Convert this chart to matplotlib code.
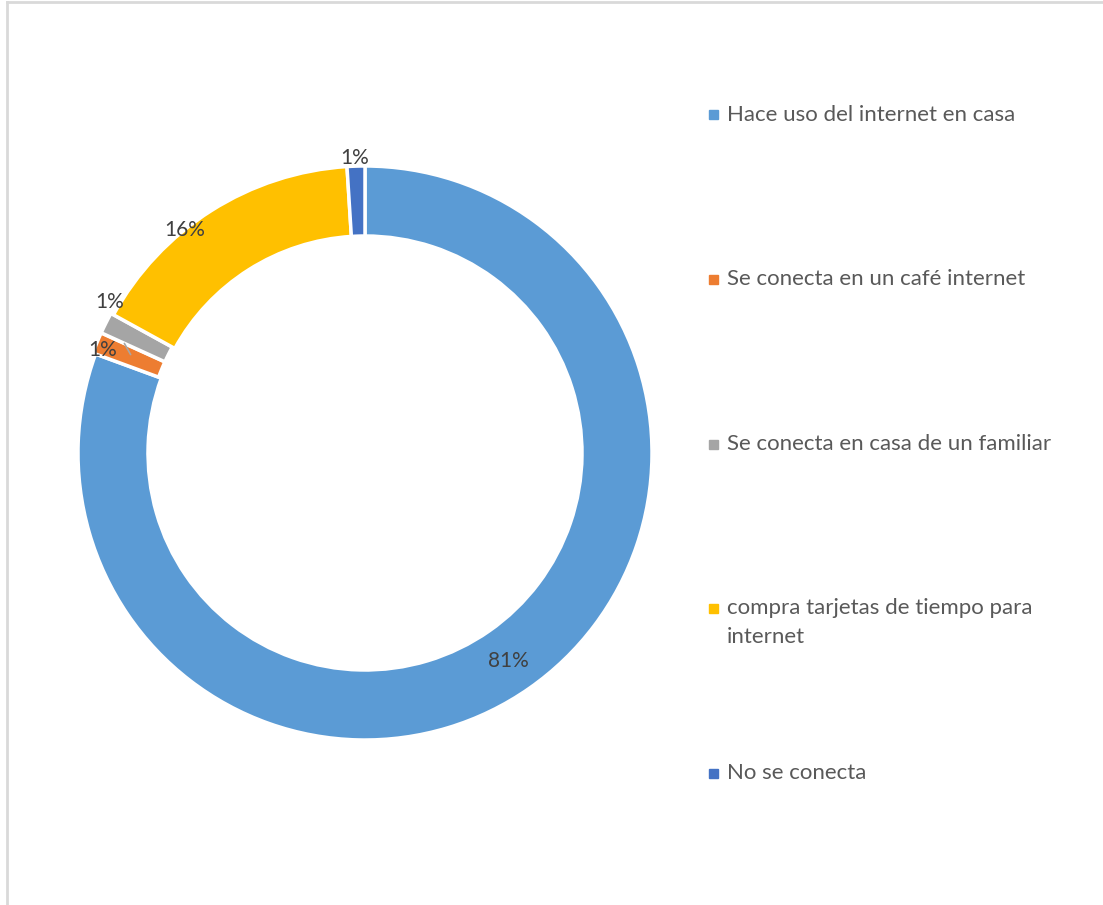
import matplotlib.pyplot as plt
from matplotlib.patches import Rectangle
import numpy as np

# data
categorias = ["Hace uso del internet en casa",
              "Se conecta en un café internet",
              "Se conecta en casa de un familiar",
              "compra tarjetas de tiempo para\ninternet",
              "No se conecta"]
valores = [80.6, 1.2, 1.2, 16.0, 1.0]
colores = ["#5B9BD5", "#ED7D31", "#A5A5A5", "#FFC000", "#4472C4"]
separar = [0, 0.01, 0.01, 0, 0]

plt.rcParams['font.family'] = ['Lato', 'DejaVu Sans']

W, H = 1103, 905
fig = plt.figure(figsize=(W/100, H/100), dpi=100)

# borde tipo excel (solo arriba e izquierda)
fig.add_artist(plt.Line2D([6.5/W, 6.5/W], [0, 1-2.5/H], color="#d9d9d9", lw=2, transform=fig.transFigure))
fig.add_artist(plt.Line2D([6.5/W, 1], [1-2.5/H, 1-2.5/H], color="#d9d9d9", lw=2, transform=fig.transFigure))

R = 287.0   # radio en px
cx, cy = 365, H - 453
lim = 1.2
side = 2*lim*R
ax = fig.add_axes([(cx-side/2)/W, (cy-side/2)/H, side/W, side/H])

wedges, _ = ax.pie(valores, colors=colores, startangle=90, counterclock=False,
                   explode=separar, radius=1,
                   wedgeprops=dict(width=70/R, edgecolor="white", linewidth=2.5))
ax.set_xlim(-lim, lim)
ax.set_ylim(-lim, lim)
ax.set_aspect("equal")
ax.axis("off")

def px(x, y):
    return ((x-cx)/R, ((H-y)-cy)/R)

etiquetas = ["%d%%" % round(v) for v in valores]
pos_etq = [px(508, 661), px(103, 350), px(110, 302), px(185, 230), px(355, 158)]
for t, p in zip(etiquetas, pos_etq):
    ax.text(p[0], p[1], t, ha="center", va="center", fontsize=15, color="#404040")

# linea guia de la etiqueta naranja
ax.annotate("", xy=px(132, 357), xytext=px(123, 341),
            arrowprops=dict(arrowstyle="-", color="#A6A6A6", lw=1.2))

# leyenda
ley_y = [115, 279, 444, 608, 773]
for cat, col, y in zip(categorias, colores, ley_y):
    fig.add_artist(Rectangle((709/W, (H-y-4.5)/H), 9/W, 9/H, color=col,
                             transform=fig.transFigure))
    if "\n" in cat:
        fig.text(727/W, (H-y+10)/H, cat, ha="left", va="top", fontsize=16,
                 color="#595959", linespacing=1.55)
    else:
        fig.text(727/W, (H-y)/H, cat, ha="left", va="center", fontsize=16,
                 color="#595959")

fig.savefig("out.png", dpi=100)
